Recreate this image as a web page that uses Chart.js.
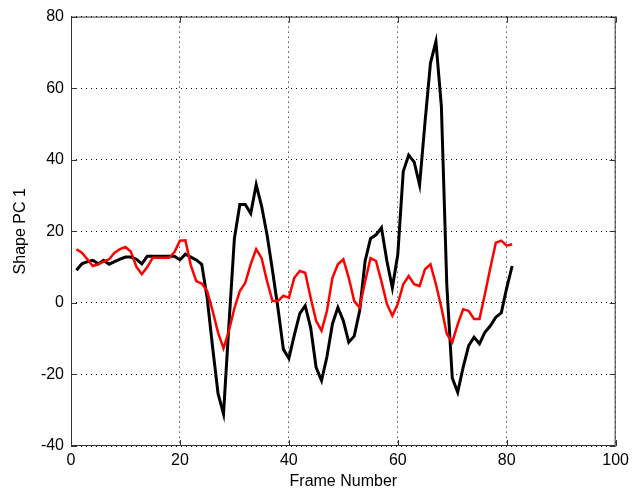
<!DOCTYPE html>
<html>
<head>
<meta charset="utf-8">
<script src="https://cdn.jsdelivr.net/npm/chart.js@4"></script>
<style>
  html, body { margin: 0; padding: 0; background: #fff; }
  #wrap { width: 634px; height: 495px; }
</style>
</head>
<body>
<div id="wrap"><canvas id="chart" width="634" height="495"></canvas></div>
<script>
const frames = [
  1, 2, 3, 4, 5, 6, 7, 8, 9, 10, 11, 12, 13, 14, 15, 16, 17, 18, 19, 20,
  21, 22, 23, 24, 25, 26, 27, 28, 29, 30, 31, 32, 33, 34, 35, 36, 37, 38, 39, 40,
  41, 42, 43, 44, 45, 46, 47, 48, 49, 50, 51, 52, 53, 54, 55, 56, 57, 58, 59, 60,
  61, 62, 63, 64, 65, 66, 67, 68, 69, 70, 71, 72, 73, 74, 75, 76, 77, 78, 79, 80, 81
]

const blackSeries = [
  9.1, 10.9, 11.5, 11.9, 10.9, 11.9, 10.8, 11.5, 12.2, 12.8,
  12.8, 12.2, 10.9, 13, 13, 13, 13, 13, 13, 12,
  13.6, 12.8, 12, 10.8, 1.4, -12.4, -25.4, -31, -6, 18,
  27.5, 27.5, 25, 33, 27, 19, 9, -1.5, -13, -15.5,
  -9, -3, -0.8, -6.9, -18, -21.7, -15, -5.9, -1.3, -5,
  -11, -9.3, -2.2, 11.7, 18, 19, 21, 11.7, 4.2, 13.5,
  36.7, 41.3, 39.4, 33, 50.5, 67, 73, 55, 5, -21,
  -25, -18, -12, -9.6, -11.4, -8.2, -6.4, -4, -2.8, 4.2, 10.3
]

const redSeries = [
  15, 14, 12.2, 10.3, 10.8, 11.5, 12.2, 14, 15, 15.6,
  14.3, 10.1, 8, 10, 12.6, 12.6, 12.6, 12.6, 14.2, 17.4,
  17.5, 10.5, 6.1, 5.4, 3.3, -2.2, -8.3, -12.7, -7.8, -1.5,
  3.3, 5.6, 10.8, 15, 12.5, 6, 0.5, 0.5, 2, 1.4,
  7, 8.9, 8.4, 1.4, -5, -7.8, -2.2, 7, 10.8, 12.2,
  7, 0.5, -1.3, 6, 12.5, 11.7, 6, -0.3, -3.6, -0.3,
  5.2, 7.5, 5.2, 4.7, 9.4, 10.8, 5.2, -1.3, -8.7, -11,
  -6, -1.8, -2.2, -4.5, -4.5, 2.5, 9.8, 16.8, 17.4, 16, 16.4
]

const xTicks = [0, 20, 40, 60, 80, 100]
const yTicks = [-40, -20, 0, 20, 40, 60, 80]

const font = { family: "'Liberation Sans', Arial, sans-serif", size: 16 }

// matlab style box with inward tick marks
const axesBox = {
  id: "axesBox",
  afterDraw(chart) {
    const { ctx, chartArea: a, scales } = chart
    ctx.save()
    ctx.strokeStyle = "#333"
    ctx.lineWidth = 1
    ctx.strokeRect(a.left + 0.5, a.top + 0.5, a.right - a.left - 1, a.bottom - a.top - 1)
    ctx.beginPath()
    xTicks.forEach(v => {
      const x = Math.round(scales.x.getPixelForValue(v)) + 0.5
      ctx.moveTo(x, a.bottom); ctx.lineTo(x, a.bottom - 6)
      ctx.moveTo(x, a.top); ctx.lineTo(x, a.top + 6)
    })
    yTicks.forEach(v => {
      const y = Math.round(scales.y.getPixelForValue(v)) + 0.5
      ctx.moveTo(a.left, y); ctx.lineTo(a.left + 6, y)
      ctx.moveTo(a.right, y); ctx.lineTo(a.right - 6, y)
    })
    ctx.stroke()
    ctx.restore()
  }
}

const toPoints = vals => vals.map((v, i) => ({ x: frames[i], y: v }))

new Chart(document.getElementById("chart"), {
  type: "line",
  data: {
    datasets: [
      {
        label: "black",
        data: toPoints(blackSeries),
        borderColor: "#000",
        borderWidth: 3,
        pointRadius: 0,
        tension: 0,
        order: 2
      },
      {
        label: "red",
        data: toPoints(redSeries),
        borderColor: "#ff0000",
        borderWidth: 2.5,
        pointRadius: 0,
        tension: 0,
        order: 1
      }
    ]
  },
  options: {
    responsive: false,
    animation: false,
    layout: { padding: { top: 14, right: 15, left: 0, bottom: 0 } },
    plugins: { legend: { display: false }, tooltip: { enabled: false } },
    scales: {
      x: {
        type: "linear",
        min: 0,
        max: 100,
        afterBuildTicks: s => { s.ticks = xTicks.map(v => ({ value: v })) },
        afterFit: s => { s.height = 49 },
        grid: { color: "#000", drawTicks: false },
        border: { display: false, dash: [1, 4] },
        ticks: { color: "#000", font, padding: 5, maxRotation: 0 },
        title: { display: true, text: "Frame Number", color: "#000", font, padding: { top: 0, bottom: 4 } }
      },
      y: {
        min: -40,
        max: 80,
        afterBuildTicks: s => { s.ticks = yTicks.map(v => ({ value: v })) },
        afterFit: s => { s.width = 71 },
        grid: { color: "#000", drawTicks: false },
        border: { display: false, dash: [1, 4] },
        ticks: { color: "#000", font, padding: 7 },
        title: { display: true, text: "Shape PC 1", color: "#000", font, padding: { top: 11, bottom: 0 } }
      }
    }
  },
  plugins: [axesBox]
})
</script>
</body>
</html>
